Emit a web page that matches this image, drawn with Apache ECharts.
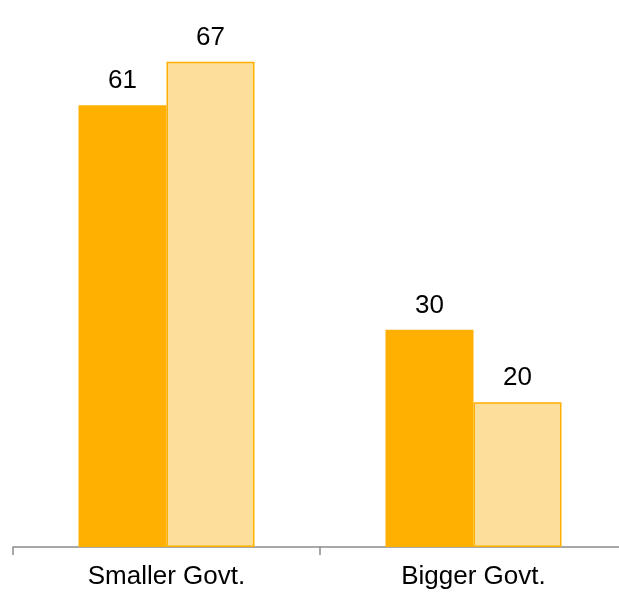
<!DOCTYPE html>
<html>
<head>
<meta charset="utf-8">
<script src="https://cdn.jsdelivr.net/npm/echarts@6/dist/echarts.min.js"></script>
<style>
  html, body { margin: 0; padding: 0; background: #fff; }
  #chart { width: 619px; height: 593px; }
</style>
</head>
<body>
<div id="chart"></div>
<script>
// Categories and the two series of percentages
const categories = ['Smaller Govt.', 'Bigger Govt.'];
const seriesA = [61, 30];
const seriesB = [67, 20];

const chart = echarts.init(document.getElementById('chart'), null, { renderer: 'canvas' });

const labelStyle = {
  show: true,
  position: 'top',
  distance: 11,
  color: '#000',
  fontSize: 26,
  fontFamily: 'Liberation Sans, Arial, sans-serif'
};

chart.setOption({
  animation: false,
  // the plot runs a little past the right edge, so the last tick is off-canvas
  grid: { left: 13, right: -8, top: 40, bottom: 46, containLabel: false, outerBoundsMode: 'none' },
  xAxis: {
    type: 'category',
    data: categories,
    axisLine: { show: true, lineStyle: { color: '#8c8c8c', width: 1.5 } },
    axisTick: { show: true, length: 8, lineStyle: { color: '#8c8c8c', width: 1.5 } },
    axisLabel: {
      color: '#000',
      fontSize: 26,
      margin: 17,
      fontFamily: 'Liberation Sans, Arial, sans-serif'
    }
  },
  yAxis: {
    type: 'value',
    min: 0,
    max: 70,
    show: false,
    splitLine: { show: false }
  },
  series: [
    {
      type: 'bar',
      data: seriesA,
      barWidth: 88,
      barGap: '0%',
      itemStyle: { color: '#FFB000' },
      label: labelStyle
    },
    {
      type: 'bar',
      data: seriesB,
      barWidth: 88,
      itemStyle: { color: '#FDDF9B', borderColor: '#FFB000', borderWidth: 1.5 },
      label: labelStyle
    }
  ]
});
</script>
</body>
</html>
